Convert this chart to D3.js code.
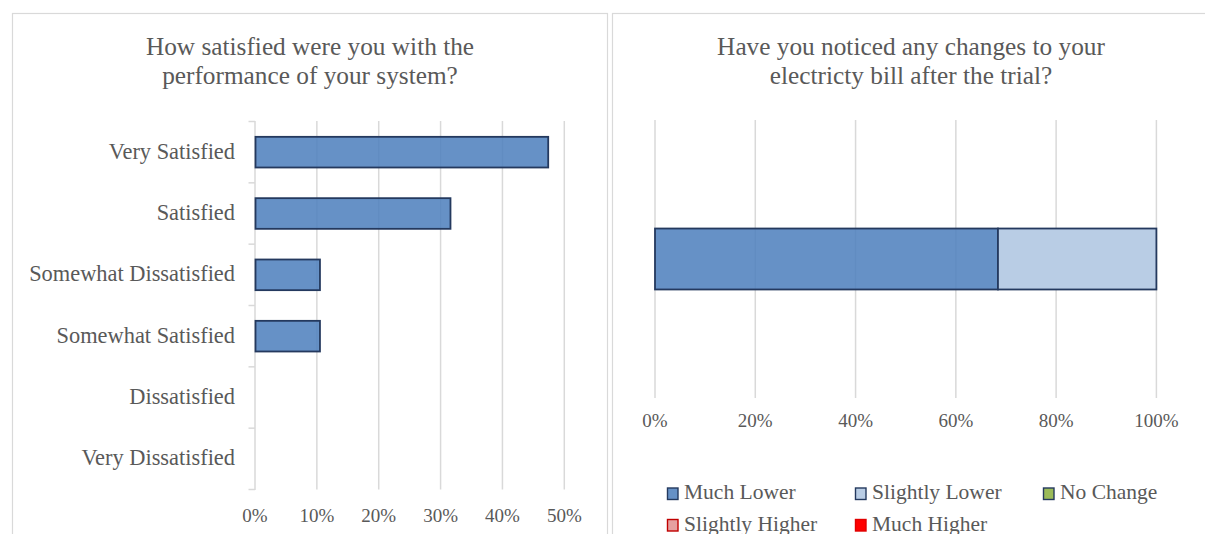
<!DOCTYPE html>
<html>
<head>
<meta charset="utf-8">
<script src="https://cdn.jsdelivr.net/npm/d3@7"></script>
<style>
  html, body { margin: 0; padding: 0; background: #fff; }
  svg { display: block; }
  text { font-family: "Liberation Serif", "Times New Roman", serif; fill: #595959; }
</style>
</head>
<body>
<svg id="chart" width="1205" height="534"></svg>
<script>
// ---------- Data ----------
const satisfactionCategories = ["Very Satisfied", "Satisfied", "Somewhat Dissatisfied", "Somewhat Satisfied", "Dissatisfied", "Very Dissatisfied"];
const satisfactionValues = [0.474, 0.316, 0.105, 0.105, 0, 0];
const satisfactionTicks = [0, 0.1, 0.2, 0.3, 0.4, 0.5];
const satisfactionTitle = ["How satisfied were you with the", "performance of your system?"];

const billSeries = ["Much Lower", "Slightly Lower", "No Change", "Slightly Higher", "Much Higher"];
const billValues = [0.684, 0.316, 0, 0, 0];
const billTicks = [0, 0.2, 0.4, 0.6, 0.8, 1.0];
const billTitle = ["Have you noticed any changes to your", "electricty bill after the trial?"];

// ---------- Styles ----------
const seriesFill = ["#4f81bd", "#b9cde5", "#9bbb59", "#e6a0a0", "#ff0000"];
const seriesFillOpacity = [0.87, 1, 1, 1, 1];
const seriesStroke = ["#24395e", "#24395e", "#24395e", "#c00000", "#e00000"];
const gridColor = "#d9d9d9";
const pct = d3.format(".0%");

const svg = d3.select("#chart");

// Panel borders
svg.append("rect").attr("x", 12.5).attr("y", 13.5).attr("width", 595).attr("height", 540)
  .attr("fill", "none").attr("stroke", gridColor).attr("stroke-width", 1.2);
svg.append("rect").attr("x", 612.5).attr("y", 13.5).attr("width", 620).attr("height", 540)
  .attr("fill", "none").attr("stroke", gridColor).attr("stroke-width", 1.2);

// ---------- Left chart ----------
const L = svg.append("g");
L.append("text").attr("text-anchor", "middle").style("font-size", "25.3px")
  .selectAll("tspan").data(satisfactionTitle).join("tspan")
  .attr("x", 310).attr("y", (d, i) => 55 + i * 28.5).text(d => d);

const xL = d3.scaleLinear().domain([0, 0.5]).range([255, 564.3]);
const yL = d3.scaleBand().domain(satisfactionCategories).range([121.5, 489.5]).paddingInner(0.5).paddingOuter(0.25);

// gridlines
L.append("g").selectAll("line").data(satisfactionTicks.slice(1)).join("line")
  .attr("x1", d => xL(d)).attr("x2", d => xL(d)).attr("y1", 121).attr("y2", 489.5)
  .attr("stroke", gridColor).attr("stroke-width", 1.5);

// category axis line and ticks
L.append("line").attr("x1", xL(0)).attr("x2", xL(0)).attr("y1", 121).attr("y2", 490)
  .attr("stroke", gridColor).attr("stroke-width", 1.5);
const boundaries = satisfactionCategories.map(c => yL(c) - yL.step() * yL.paddingInner() / 2);
boundaries.push(yL(satisfactionCategories[satisfactionCategories.length - 1]) + yL.bandwidth() + yL.step() * yL.paddingInner() / 2);
L.append("g").selectAll("line").data(boundaries).join("line")
  .attr("x1", xL(0) - 6.5).attr("x2", xL(0)).attr("y1", d => d).attr("y2", d => d)
  .attr("stroke", gridColor).attr("stroke-width", 1.5);

// bars
L.append("g").selectAll("rect").data(satisfactionCategories.filter((c, i) => satisfactionValues[i] > 0)).join("rect")
  .attr("x", xL(0) + 0.5)
  .attr("y", d => yL(d))
  .attr("width", d => xL(satisfactionValues[satisfactionCategories.indexOf(d)]) - xL(0) - 0.5)
  .attr("height", yL.bandwidth())
  .attr("fill", seriesFill[0]).attr("fill-opacity", seriesFillOpacity[0])
  .attr("stroke", seriesStroke[0]).attr("stroke-width", 1.8);

// category labels
L.append("g").selectAll("text").data(satisfactionCategories).join("text")
  .attr("x", 235).attr("y", d => yL(d) + yL.bandwidth() / 2 + 6.5)
  .attr("text-anchor", "end").style("font-size", "22.4px").text(d => d);

// value tick labels
L.append("g").selectAll("text").data(satisfactionTicks).join("text")
  .attr("x", d => xL(d)).attr("y", 521.5).attr("text-anchor", "middle")
  .style("font-size", "19px").text(d => pct(d));

// ---------- Right chart ----------
const R = svg.append("g");
R.append("text").style("font-size", "25.3px").attr("text-anchor", "middle")
  .selectAll("tspan").data(billTitle).join("tspan")
  .attr("x", 911).attr("y", (d, i) => 55 + i * 28.5).text(d => d);

const xR = d3.scaleLinear().domain([0, 1]).range([655, 1156.4]);
const yR = d3.scaleBand().domain(["bill"]).range([120, 398]).paddingInner(0.5).paddingOuter(0.89);

R.append("g").selectAll("line").data(billTicks).join("line")
  .attr("x1", d => xR(d)).attr("x2", d => xR(d)).attr("y1", 120).attr("y2", 398)
  .attr("stroke", gridColor).attr("stroke-width", 1.5);

// stacked segments
const stackData = [Object.fromEntries(billSeries.map((s, i) => [s, billValues[i]]))];
const stacked = d3.stack().keys(billSeries)(stackData);
R.append("g").selectAll("rect").data(stacked.filter((s, i) => billValues[i] > 0)).join("rect")
  .attr("x", s => xR(s[0][0]))
  .attr("y", yR("bill"))
  .attr("width", s => xR(s[0][1]) - xR(s[0][0]))
  .attr("height", yR.bandwidth())
  .attr("fill", s => seriesFill[s.index]).attr("fill-opacity", s => seriesFillOpacity[s.index])
  .attr("stroke", s => seriesStroke[s.index]).attr("stroke-width", 1.8);

R.append("g").selectAll("text").data(billTicks).join("text")
  .attr("x", d => xR(d)).attr("y", 427).attr("text-anchor", "middle")
  .style("font-size", "19px").text(d => pct(d));

// legend
const legendCols = [667, 855, 1043];
const legendRows = [487.5, 519];
const leg = R.append("g").selectAll("g").data(billSeries).join("g")
  .attr("transform", (d, i) => `translate(${legendCols[i % 3]},${legendRows[Math.floor(i / 3)]})`);
leg.append("rect").attr("x", 0.5).attr("y", 0.5).attr("width", 10.5).attr("height", 11.5)
  .attr("fill", (d, i) => seriesFill[i]).attr("fill-opacity", (d, i) => seriesFillOpacity[i])
  .attr("stroke", (d, i) => seriesStroke[i]).attr("stroke-width", 1.4);
leg.append("text").attr("x", 17).attr("y", 11.5).style("font-size", "21.5px").text(d => d);
</script>
</body>
</html>
